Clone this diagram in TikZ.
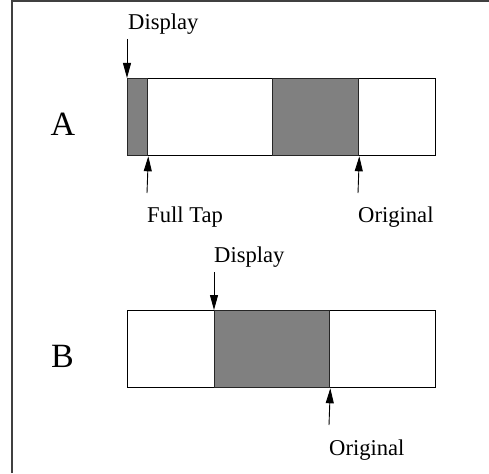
\documentclass[tikz,border=0pt]{standalone}
\usepackage{fontspec}
\setmainfont{Liberation Serif}
\usetikzlibrary{arrows.meta}
\definecolor{shade}{HTML}{808080}
\tikzset{
  bar/.style={draw=black, line width=1pt, fill=white, minimum height=77pt, inner sep=0pt, anchor=north west},
  seg/.style={draw=black!85, line width=1.3pt, fill=shade, minimum height=77pt, inner sep=0pt, anchor=north west},
  lbl/.style={inner sep=0pt, anchor=base west, font=\fontsize{22.6pt}{27pt}\selectfont},
  big/.style={inner sep=0pt, anchor=base, font=\fontsize{34pt}{40pt}\selectfont},
  ptr/.style={line width=0.9pt, arrows={-Triangle[length=15pt,width=8pt]}}
}
\begin{document}
\begin{tikzpicture}[x=1pt,y=-1pt]
\useasboundingbox (0,0) rectangle (489,473);
% frame
\draw[line width=1.3pt, black!75] (12,473) -- (12,1) -- (489,1);
% row A
\node[big] (labA) at (63,136) {A};
\node[bar, minimum width=308pt] (barA) at (127,78) {};
\node[seg, minimum width=20pt] (segA1) at (127,78) {};
\node[seg, minimum width=86pt] (segA2) at (272,78) {};
\coordinate (pA0) at (127,39);
\coordinate (pA1) at (147,193);
\coordinate (pA2) at (358,193);
\draw[ptr] (pA0) -- (segA1.north west);
\draw[ptr] (pA1) -- (segA1.south east);
\draw[ptr] (pA2) -- (segA2.south east);
\node[lbl] (dispA) at (128,30) {Display};
\node[lbl] (fullA) at (147,222.5) {Full Tap};
\node[lbl] (origA) at (358,222.5) {Original};
% row B
\node[big] (labB) at (62.5,367) {B};
\node[bar, minimum width=308pt] (barB) at (127,310) {};
\node[seg, minimum width=115pt] (segB) at (214,310) {};
\coordinate (pB0) at (214,272);
\coordinate (pB1) at (329,425);
\draw[ptr] (pB0) -- (segB.north west);
\draw[ptr] (pB1) -- (segB.south east);
\node[lbl] (dispB) at (214,262.5) {Display};
\node[lbl] (origB) at (329,455) {Original};
\end{tikzpicture}
\end{document}
